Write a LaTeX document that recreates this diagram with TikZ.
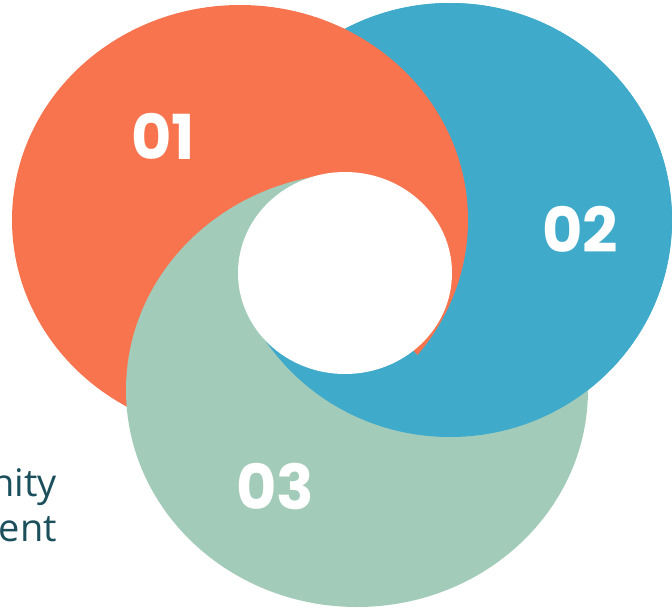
\documentclass[tikz,border=0pt]{standalone}
\usepackage{fontspec}
\setmainfont{Open Sans}
\newfontfamily\numfont{Poppins}
\definecolor{coral}{HTML}{F8744E}
\definecolor{sky}{HTML}{3FAACA}
\definecolor{sage}{HTML}{A3CBBA}
\definecolor{ink}{HTML}{1B4F5C}
\newcommand\coraldisc{\fill[coral] (240,220) ellipse [x radius=228pt, y radius=215pt];}
\newcommand\skydisc{\fill[sky] (450,220) ellipse [x radius=222pt, y radius=217pt];}
\newcommand\sagedisc{\fill[sage] (357,390) ellipse [x radius=231pt, y radius=217pt];}
\begin{document}
\begin{tikzpicture}[x=1pt,y=-1pt]
        \useasboundingbox (0,0) rectangle (672,610);
        \node[ink,font=\fontsize{38}{40}\selectfont,anchor=base east,inner sep=0] (t1) at (57,496) {nity};
        \node[ink,font=\fontsize{38}{40}\selectfont,anchor=base east,inner sep=0] (t2) at (57,541) {ment};
        \coordinate (c) at (345,273);
        \skydisc \coraldisc \sagedisc
        \begin{scope}
            \clip (345,-2000) -- (c) -- (-2000,894) -- (-2000,2600) -- (2600,2600) -- (2600,-2000) -- cycle;
            \skydisc
        \end{scope}
        \begin{scope}
            \clip (342,-2000) -- (342,270) -- (c) -- (2385,2583) -- (2600,2583) -- (2600,-2000) -- cycle;
            \coraldisc
        \end{scope}
        \fill[white] (c) ellipse [x radius=107pt, y radius=101pt];
        \node[white,font=\numfont\bfseries\fontsize{62}{62}\selectfont,inner sep=0] (n1) at (163,136) {01};
        \node[white,font=\numfont\bfseries\fontsize{62}{62}\selectfont,inner sep=0] (n2) at (580,229) {02};
        \node[white,font=\numfont\bfseries\fontsize{62}{62}\selectfont,inner sep=0] (n3) at (275,487) {03};
    \end{tikzpicture}
\end{document}
